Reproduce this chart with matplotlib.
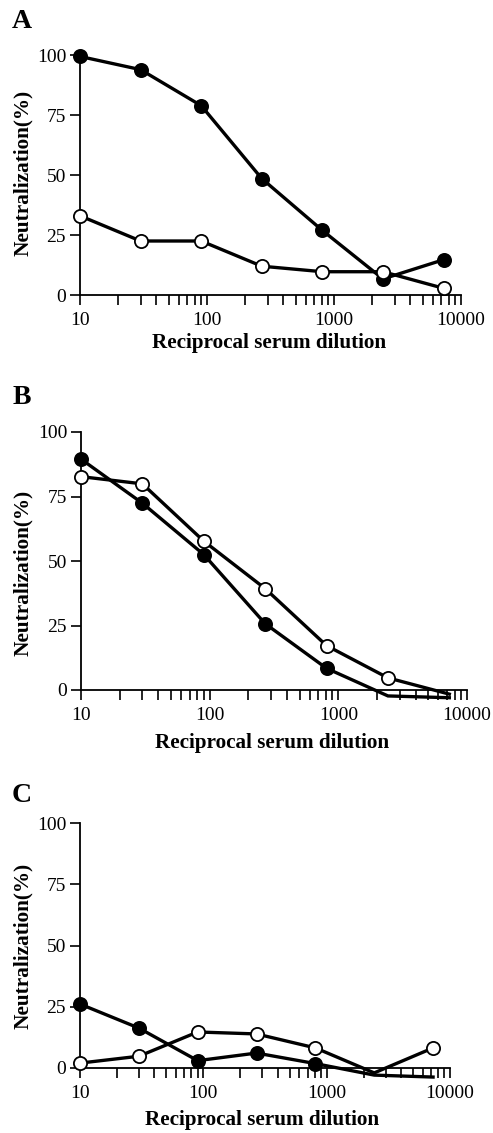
import numpy as np
import matplotlib.pyplot as plt
from matplotlib.ticker import LogLocator, FixedLocator, NullFormatter

plt.rcParams['font.family'] = ['Liberation Serif', 'DejaVu Serif']

# 3-fold serum dilutions
dilution = [10, 30, 90, 270, 810, 2430, 7290]

# panel A
a_filled = [99.4, 93.9, 78.9, 48.5, 26.9, 6.7, 14.7]
a_open = [33.0, 22.5, 22.5, 12.0, 9.7, 9.7, 2.8]
# panel B
b_filled = [89.5, 72.4, 52.5, 25.7, 8.4, -2.3, -3.0]
b_open = [82.7, 79.9, 57.7, 39.3, 17.2, 4.7, -1.6]
# panel C
c_filled = [26.1, 16.3, 3.0, 6.1, 1.8, -2.9, -3.7]
c_open = [2.0, 4.8, 14.7, 13.9, 8.2, -2.0, 8.2]

panels = [
    ('A', a_filled, a_open),
    ('B', b_filled, b_open),
    ('C', c_filled, c_open),
]

W, H = 493, 1133
fig = plt.figure(figsize=(W / 100, H / 100), dpi=100)

# axes boxes in pixels: left, right(x=10000), y of 0, y of 100
boxes = [(80, 461, 295, 55), (81, 467, 690, 432), (80, 450, 1068, 823)]
letter_y = [21, 398, 795]
ylab_y = [173, 573, 946]
xlab = [(269, 343), (272, 743), (262, 1120)]

for (name, filled, opened), (l, r, b, t), ly, yy, (xx, xy) in zip(
        panels, boxes, letter_y, ylab_y, xlab):
    ax = fig.add_axes([l / W, 1 - b / H, (r - l) / W, (b - t) / H])
    ax.set_xscale('log')
    ax.set_xlim(10, 10000)
    ax.set_ylim(0, 100)

    x = np.array(dilution)
    for vals, face in [(filled, 'black'), (opened, 'white')]:
        v = np.array(vals)
        ax.plot(x, v, color='black', lw=2.4, clip_on=False, zorder=3,
                solid_joinstyle='miter')
        m = v >= 0
        ax.plot(x[m], v[m], ls='none', marker='o', ms=9.5, mfc=face,
                mec='black', mew=1.3, clip_on=False, zorder=4)

    ax.spines['top'].set_visible(False)
    ax.spines['right'].set_visible(False)
    for s in ['left', 'bottom']:
        ax.spines[s].set_linewidth(1.3)

    ax.set_yticks([0, 25, 50, 75, 100])
    ax.xaxis.set_major_locator(FixedLocator([10, 100, 1000, 10000]))
    ax.xaxis.set_major_formatter(plt.FixedFormatter(['10', '100', '1000', '10000']))
    ax.xaxis.set_minor_locator(LogLocator(base=10, subs=np.arange(2, 10)))
    ax.xaxis.set_minor_formatter(NullFormatter())
    ax.tick_params(axis='both', which='both', direction='out', width=1.2,
                   length=7, labelsize=14, pad=3)
    ax.tick_params(axis='x', which='major', pad=5)

    fig.text(22 / W, 1 - ly / H, name, fontsize=20, fontweight='bold',
             ha='center', va='center')
    fig.text(23 / W, 1 - yy / H, 'Neutralization(%)', fontsize=15.3,
             fontweight='bold', rotation=90, ha='center', va='center')
    fig.text(xx / W, 1 - xy / H, 'Reciprocal serum dilution', fontsize=15.2,
             fontweight='bold', ha='center', va='center')

fig.savefig('out.png', dpi=100)
